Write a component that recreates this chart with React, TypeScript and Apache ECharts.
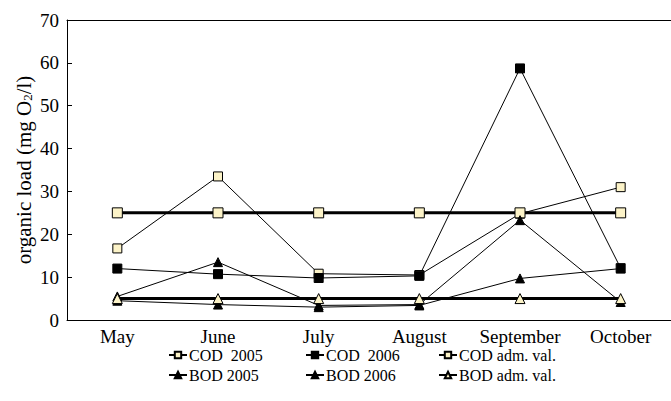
import React, { useEffect, useRef } from "react";
import * as echarts from "echarts";

const months = ["May", "June", "July", "August", "September", "October"];
const cod2005 = [16.7, 33.5, 10.8, 10.5, 24.8, 31.0];
const cod2006 = [12.0, 10.7, 9.8, 10.3, 58.7, 12.1];
const codAdm = [25, 25, 25, 25, 25, 25];
const bod2005 = [5.5, 13.5, 3.4, 3.6, 23.3, 4.2];
const bod2006 = [4.5, 3.6, 3.0, 3.4, 9.7, 12.0];
const bodAdm = [5, 5, 5, 5, 5, 5];
const yTicks = { min: 0, max: 70, interval: 10 };

const FONT = "'Liberation Serif', 'Times New Roman', serif";
const CREAM = "#fcf3c8";

export default function App() {
  const ref = useRef<HTMLDivElement>(null);
  useEffect(() => {
    if (!ref.current) return;
    const chart = echarts.init(ref.current, null, { renderer: "svg" });
    const thin = (name: string, data: number[], symbol: string, fill: string, size: number) => ({
      name,
      type: "line",
      data,
      symbol,
      symbolSize: size,
      showSymbol: true,
      lineStyle: { color: "#000", width: 1 },
      itemStyle: { color: fill, borderColor: "#000", borderWidth: 1 },
      emphasis: { disabled: true },
    });
    const thick = (name: string, data: number[], symbol: string, size: number) => ({
      name,
      type: "line",
      data,
      symbol,
      symbolSize: size,
      lineStyle: { color: "#000", width: 3 },
      itemStyle: { color: CREAM, borderColor: "#000", borderWidth: 1 },
      emphasis: { disabled: true },
    });
    const legendCols = [168, 305, 438];
    const legendRows = [347, 367];
    const names = [
      ["COD  2005", "COD  2006", "COD adm. val."],
      ["BOD 2005", "BOD 2006", "BOD adm. val."],
    ];
    const legends: any[] = [];
    names.forEach((row, r) =>
      row.forEach((n, c) =>
        legends.push({
          data: [n],
          left: legendCols[c],
          top: legendRows[r],
          padding: 0,
          itemWidth: 18,
          itemHeight: 8,
          itemGap: 2,
          selectedMode: false,
          textStyle: { fontFamily: FONT, fontSize: 16, color: "#000", padding: [0, 0, 0, -3] },
        })
      )
    );
    chart.setOption({
      animation: false,
      backgroundColor: "#fff",
      grid: { left: 67, top: 20, right: -4, bottom: 81, containLabel: false },
      legend: legends,
      xAxis: [
        {
          type: "category",
          data: months,
          boundaryGap: true,
          axisLine: { lineStyle: { color: "#000", width: 1 } },
          axisTick: { inside: true, length: 5, lineStyle: { color: "#000" } },
          axisLabel: { interval: 0, fontFamily: FONT, fontSize: 19, color: "#000", margin: 7 },
          splitLine: { show: false },
        },
        {
          type: "category",
          data: months,
          position: "top",
          axisLine: { lineStyle: { color: "#000", width: 1 } },
          axisTick: { show: false },
          axisLabel: { show: false },
        },
      ],
      yAxis: {
        type: "value",
        min: yTicks.min,
        max: yTicks.max,
        interval: yTicks.interval,
        name: "{n|organic load (mg O}{sub|2}{n|/l)}",
        nameLocation: "middle",
        nameGap: 33,
        nameMoveOverlap: false,
        nameRotate: 90,
        nameTextStyle: {
          fontFamily: FONT,
          fontSize: 21,
          color: "#000",
          rich: {
            n: { fontFamily: FONT, fontSize: 21, color: "#000" },
            sub: { fontFamily: FONT, fontSize: 13, color: "#000", padding: [0, 0, -7, 0] },
          },
        },
        axisLine: { show: true, lineStyle: { color: "#000", width: 1 } },
        axisTick: { show: true, inside: true, length: 5, lineStyle: { color: "#000" } },
        axisLabel: { fontFamily: FONT, fontSize: 19, color: "#000", margin: 8 },
        splitLine: { show: false },
      },
      series: [
        thin("COD  2005", cod2005, "rect", CREAM, 9),
        thin("COD  2006", cod2006, "rect", "#000", 9),
        thick("COD adm. val.", codAdm, "rect", 10),
        thin("BOD 2005", bod2005, "triangle", "#000", 9),
        thin("BOD 2006", bod2006, "triangle", "#000", 9),
        thick("BOD adm. val.", bodAdm, "triangle", 10),
      ],
    });
    return () => chart.dispose();
  }, []);
  return (
    <div
      ref={ref}
      style={{ position: "fixed", left: 0, top: 0, width: 671, height: 401 }}
    />
  );
}
